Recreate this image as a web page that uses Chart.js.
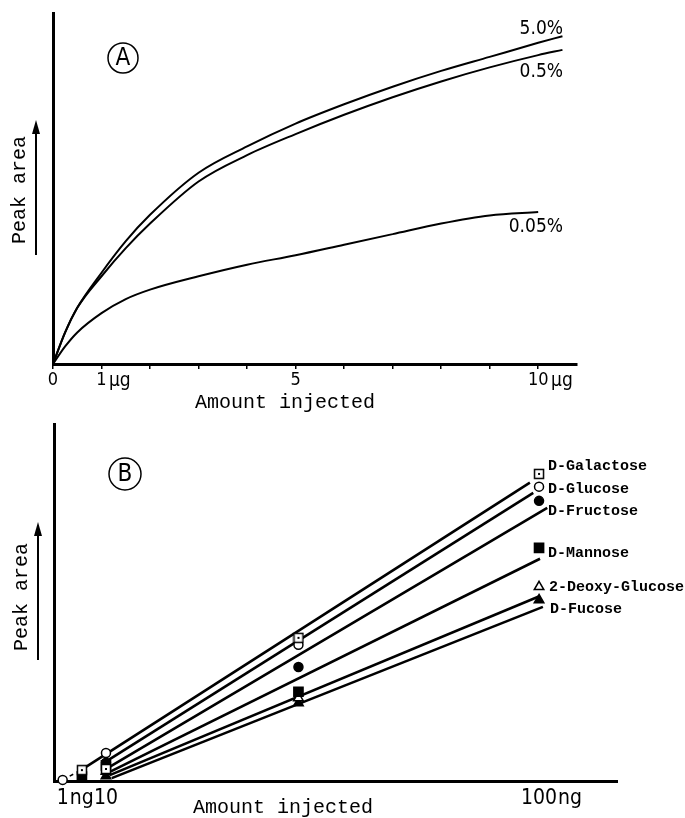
<!DOCTYPE html>
<html>
<head>
<meta charset="utf-8">
<script src="https://cdn.jsdelivr.net/npm/chart.js@4"></script>
<style>
  html, body { margin: 0; padding: 0; background: #fff; }
  #wrap { position: relative; width: 685px; height: 818px; }
  canvas { position: absolute; left: 0; }
  #chartA { top: 0; }
  #chartB { top: 412px; }
</style>
</head>
<body>
<div id="wrap">
  <canvas id="chartA" width="685" height="412"></canvas>
  <canvas id="chartB" width="685" height="406"></canvas>
</div>
<script>
const NARROW = "'Liberation Sans Narrow', 'DejaVu Sans Condensed', 'Liberation Sans', sans-serif";
const MONO = "'Liberation Mono', 'DejaVu Sans Mono', monospace";

// PANEL A data: amount injected (ug) vs peak area, three concentrations
const amountA = [0, 0.25, 0.5, 1, 1.5, 2, 3, 4, 5, 6, 7, 8, 9, 10, 10.5];
const pct50 = [0, 9, 16, 26, 35, 42.5, 54.5, 62, 68.5, 74, 79, 83.5, 87.5, 91.5, 93.4];
const pct05 = [0, 9, 16, 25, 33, 40, 52, 59.5, 65.5, 71, 76, 80.5, 84.5, 88, 89.5];
const pct005 = [0, 5, 9, 14.5, 18.5, 21.2, 25, 28.3, 31, 34, 37, 40, 42.3, 43.3, null];
const curveNames = ["5.0%", "0.5%", "0.05%"];
const tickValuesA = [0, 1, 2, 3, 4, 5, 6, 7, 8, 9, 10];
const labelledA = [0, 1, 5, 10];
const unitsA = ["", "µg", "", "µg"];

// PANEL B data: amount injected (ng) vs peak area, six sugars
const amountB = [1, 5, 10, 50, 100];
const sugars = ["D-Galactose", "D-Glucose", "D-Fructose", "D-Mannose", "2-Deoxy-Glucose", "D-Fucose"];
const galactose = [null, 3.0, 3.3, 39.3, 84.3];
const glucose = [0.3, null, 7.7, 37.4, 80.8];
const fructose = [null, null, 5.0, 31.3, 76.9];
const mannose = [null, 1.2, 4.3, 24.5, 64.0];
const deoxyGlucose = [null, null, 2.6, 22.8, 53.3];
const fucose = [null, null, 1.4, 21.4, 49.7];
// fitted straight lines, one per sugar (start / end points)
const fitStartX = [4.8, 9.8, 10.4, 10.8, 10.8, 11.2];
const fitStartY = [3.0, 5.2, 3.6, 2.5, 1.6, 0.8];
const fitEndX = [98.1, 98.8, 101.7, 100.2, 100.2, 100.8];
const fitEndY = [81.9, 79.1, 75.0, 61.0, 50.8, 47.8];
// short dashed piece between the lowest points
const dashX = [1, 4.8];
const dashY = [0.3, 3.0];
const tickValuesB = [1, 10, 100];
const unitsB = ["ng", "", "ng"];

function toPoints(xs, ys) {
  return xs.map((x, i) => ({ x: x, y: ys[i] })).filter(p => p.y !== null);
}

function squareDot() {
  const c = document.createElement("canvas");
  c.width = 12; c.height = 12;
  const g = c.getContext("2d");
  g.fillStyle = "#fff"; g.fillRect(1, 1, 10, 10);
  g.strokeStyle = "#000"; g.lineWidth = 1.5; g.strokeRect(1.5, 1.5, 9, 9);
  g.fillStyle = "#000"; g.fillRect(5, 5, 2, 2);
  return c;
}

// draws the unit after a tick number ("1" + "µg")
function unitPlugin(values, units, size, gap, below) {
  return {
    id: "units",
    afterDraw(chart) {
      const sx = chart.scales.x;
      const ctx = chart.ctx;
      ctx.save();
      ctx.font = size + "px " + NARROW;
      ctx.fillStyle = "#000";
      ctx.textBaseline = "middle";
      ctx.textAlign = "left";
      const y = sx.top + below;
      values.forEach((v, i) => {
        if (!units[i]) return;
        const w = ctx.measureText(String(v)).width;
        ctx.fillText(units[i], sx.getPixelForValue(v) + w / 2 + gap, y);
      });
      ctx.restore();
    }
  };
}

function drawArrow(ctx, x, yBottom, yTop) {
  ctx.save();
  ctx.strokeStyle = "#000";
  ctx.fillStyle = "#000";
  ctx.lineWidth = 2;
  ctx.beginPath();
  ctx.moveTo(x, yBottom);
  ctx.lineTo(x, yTop + 10);
  ctx.stroke();
  ctx.beginPath();
  ctx.moveTo(x, yTop);
  ctx.lineTo(x - 4, yTop + 14);
  ctx.lineTo(x + 4, yTop + 14);
  ctx.closePath();
  ctx.fill();
  ctx.restore();
}

function drawCircled(ctx, x, y, r, letter) {
  ctx.save();
  ctx.strokeStyle = "#000";
  ctx.lineWidth = 1.5;
  ctx.beginPath();
  ctx.arc(x, y, r, 0, Math.PI * 2);
  ctx.stroke();
  ctx.fillStyle = "#000";
  ctx.font = "24px " + NARROW;
  ctx.textAlign = "center";
  ctx.textBaseline = "middle";
  ctx.fillText(letter, x, y + 1);
  ctx.restore();
}

function drawTitles(ctx, xTitle, xLabelX, xLabelY, yLabelX, yLabelY) {
  ctx.save();
  ctx.fillStyle = "#000";
  ctx.font = "20px " + MONO;
  ctx.textAlign = "center";
  ctx.textBaseline = "middle";
  ctx.fillText(xTitle, xLabelX, xLabelY);
  ctx.translate(yLabelX, yLabelY);
  ctx.rotate(-Math.PI / 2);
  ctx.fillText("Peak area", 0, 0);
  ctx.restore();
}

const commonPlugins = { legend: { display: false }, tooltip: { enabled: false } };

// PANEL A
const decorA = {
  id: "decorA",
  afterDraw(chart) {
    const ctx = chart.ctx;
    drawCircled(ctx, 123, 58, 15, "A");
    drawTitles(ctx, "Amount injected", 285, 403, 20, 190);
    drawArrow(ctx, 36, 255, 120);
    ctx.save();
    ctx.fillStyle = "#000";
    ctx.font = "19px " + NARROW;
    ctx.textAlign = "right";
    ctx.textBaseline = "middle";
    ctx.fillText(curveNames[0], 563, 29);
    ctx.fillText(curveNames[1], 563, 72);
    ctx.fillText(curveNames[2], 563, 227);
    ctx.restore();
  }
};

function curve(ys) {
  return {
    data: toPoints(amountA, ys),
    showLine: true,
    borderColor: "#000",
    borderWidth: 2,
    pointRadius: 0,
    cubicInterpolationMode: "monotone",
    clip: false
  };
}

new Chart(document.getElementById("chartA"), {
  type: "scatter",
  data: { datasets: [curve(pct50), curve(pct05), curve(pct005)] },
  options: {
    responsive: false,
    animation: false,
    devicePixelRatio: 1,
    layout: { padding: { top: 13, left: 53, right: 108, bottom: 18 } },
    plugins: commonPlugins,
    scales: {
      x: {
        type: "linear",
        min: 0,
        max: 10.8,
        afterBuildTicks: s => { s.ticks = tickValuesA.map(v => ({ value: v })); },
        afterFit: s => { s.height = 30; },
        border: { display: true, color: "#000", width: 3 },
        grid: { display: true, drawOnChartArea: false, drawTicks: true, tickLength: 5, color: "#000", lineWidth: 1.5 },
        ticks: {
          autoSkip: false,
          maxRotation: 0,
          padding: 1,
          color: "#000",
          font: { family: NARROW, size: 18 },
          callback: v => (labelledA.includes(v) ? String(v) : "")
        }
      },
      y: {
        min: 0,
        max: 100,
        afterFit: s => { s.width = 0; },
        border: { display: true, color: "#000", width: 3 },
        grid: { display: false },
        ticks: { display: false }
      }
    }
  },
  plugins: [decorA, unitPlugin(labelledA, unitsA, 19, 2, 17)]
});

// PANEL B
const decorB = {
  id: "decorB",
  afterDraw(chart) {
    const ctx = chart.ctx;
    drawCircled(ctx, 125, 62, 16, "B");
    drawTitles(ctx, "Amount injected", 283, 396, 22, 185);
    drawArrow(ctx, 38, 248, 110);
    ctx.save();
    ctx.fillStyle = "#000";
    ctx.font = "bold 15px " + MONO;
    ctx.textAlign = "left";
    ctx.textBaseline = "middle";
    const ys = [54, 77, 99, 141, 175, 197];
    const xs = [548, 548, 548, 548, 549, 550];
    sugars.forEach((s, i) => ctx.fillText(s, xs[i], ys[i]));
    ctx.restore();
  }
};

const markerStyles = [
  { style: squareDot(), radius: 6, fill: "#fff" },
  { style: "circle", radius: 4.5, fill: "#fff" },
  { style: "circle", radius: 4.5, fill: "#000" },
  { style: "rect", radius: 6.5, fill: "#000" },
  { style: "triangle", radius: 5.5, fill: "#fff" },
  { style: "triangle", radius: 5.5, fill: "#000" }
];
const sugarValues = [galactose, glucose, fructose, mannose, deoxyGlucose, fucose];

const datasetsB = [];
sugarValues.forEach((vals, i) => {
  const m = markerStyles[i];
  datasetsB.push({
    label: sugars[i],
    data: toPoints(amountB, vals),
    showLine: false,
    pointStyle: m.style,
    pointRadius: m.radius,
    pointBackgroundColor: m.fill,
    pointBorderColor: "#000",
    pointBorderWidth: 1.5,
    clip: false,
    order: 0
  });
  datasetsB.push({
    label: sugars[i] + " fit",
    data: [{ x: fitStartX[i], y: fitStartY[i] }, { x: fitEndX[i], y: fitEndY[i] }],
    showLine: true,
    borderColor: "#000",
    borderWidth: 2.6,
    pointRadius: 0,
    clip: false,
    order: 1
  });
});
datasetsB.push({
  data: toPoints(dashX, dashY),
  showLine: true,
  borderColor: "#000",
  borderWidth: 1.5,
  borderDash: [4, 4],
  pointRadius: 0,
  clip: false,
  order: 1
});

new Chart(document.getElementById("chartB"), {
  type: "scatter",
  data: { datasets: datasetsB },
  options: {
    responsive: false,
    animation: false,
    devicePixelRatio: 1,
    layout: { padding: { top: 12, left: 54, right: 68, bottom: 7 } },
    plugins: commonPlugins,
    scales: {
      x: {
        type: "linear",
        min: -0.8,
        max: 116.2,
        afterBuildTicks: s => { s.ticks = tickValuesB.map(v => ({ value: v })); },
        afterFit: s => { s.height = 30; },
        border: { display: true, color: "#000", width: 3 },
        grid: { display: false, drawTicks: false },
        ticks: {
          autoSkip: false,
          maxRotation: 0,
          padding: 5,
          color: "#000",
          font: { family: NARROW, size: 21 },
          callback: v => String(v)
        }
      },
      y: {
        min: 0,
        max: 98,
        afterFit: s => { s.width = 0; },
        border: { display: true, color: "#000", width: 3 },
        grid: { display: false },
        ticks: { display: false }
      }
    }
  },
  plugins: [decorB, unitPlugin(tickValuesB, unitsB, 21, 1, 17.6)]
});
</script>
</body>
</html>
